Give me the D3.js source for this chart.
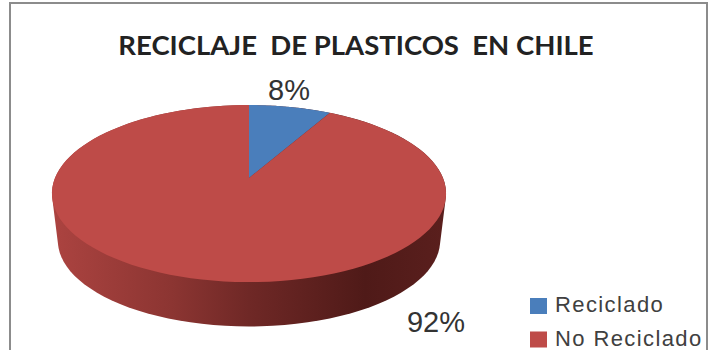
<!DOCTYPE html>
<html>
<head>
<meta charset="utf-8">
<script src="https://cdn.jsdelivr.net/npm/d3@7"></script>
<style>
html,body{margin:0;padding:0;background:#fff;overflow:hidden}
svg{display:block}
text{white-space:pre}
</style>
</head>
<body>
<svg id="chart" width="721" height="350"></svg>
<script>
const chartTitle = "RECICLAJE  DE PLASTICOS  EN CHILE";
const categories = ["Reciclado", "No Reciclado"];
const shares = [8, 92];
const topColors = ["#4a7ebb", "#be4b48"];

const svg = d3.select("#chart");
const defs = svg.append("defs");

// Outer frame of the chart area; its bottom edge runs past the window
svg.append("rect").attr("x", 10).attr("y", 3).attr("width", 697).attr("height", 370)
  .attr("fill", "#fff").attr("stroke", "#8c8c8c").attr("stroke-width", 2);

// Tilted disc: unit-circle coordinates go through a perspective divide
const apex = {x: 249, y: 178};
const perspective = -0.176;
const planeX = d3.scaleLinear().domain([-1, 1]).range([apex.x - 194, apex.x + 194]);
const planeY = d3.scaleLinear().domain([-1, 1]).range([apex.y - 85.8, apex.y + 85.8]);
const project = (u, v, shrink = 1, drop = 0) => {
  const w = 1 + perspective * v;
  return [planeX(shrink * u / w), planeY(shrink * v / w) + drop];
};

// Pie layout starting at twelve o'clock, clockwise
const pie = d3.pie().sort(null).value(d => d)(shares);
const rimPoints = (a0, a1, shrink, drop) =>
  d3.range(0, 121).map(i => {
    const a = a0 + (a1 - a0) * i / 120;
    return project(Math.sin(a), -Math.cos(a), shrink, drop);
  });

// Side wall: hull of the top rim and the lower rim
const wallGrad = defs.append("linearGradient").attr("id", "wall")
  .attr("gradientUnits", "userSpaceOnUse")
  .attr("x1", planeX(-1)).attr("x2", planeX(1)).attr("y1", 0).attr("y2", 0);
[[0, "#ab4340"], [0.3, "#8c3532"], [0.5, "#6f2826"], [0.8, "#4f1a18"], [1, "#5a1f1d"]]
  .forEach(([o, c]) => wallGrad.append("stop").attr("offset", o).attr("stop-color", c));

const hull = d3.polygonHull([
  ...rimPoints(0, 2 * Math.PI, 1, 0),
  ...rimPoints(0, 2 * Math.PI, 0.97, 47.5)
]);
svg.append("path").attr("d", d3.line()(hull) + "Z").attr("fill", "url(#wall)");

// Top face of the pie
const line = d3.line();
svg.append("g").selectAll("path").data(pie).join("path")
  .attr("d", d => line([project(0, 0), ...rimPoints(d.startAngle, d.endAngle, 1, 0)]) + "Z")
  .attr("fill", (d, i) => topColors[i]);

// Title
svg.append("text").attr("x", 356).attr("y", 55).attr("text-anchor", "middle")
  .attr("font-family", "Lato").attr("font-weight", 700).attr("font-size", 27.5)
  .attr("fill", "#222").text(chartTitle);

// Percentage labels
const labelPos = [[289, 100], [436, 332]];
svg.append("g").selectAll("text").data(shares).join("text")
  .attr("x", (d, i) => labelPos[i][0]).attr("y", (d, i) => labelPos[i][1])
  .attr("text-anchor", "middle")
  .attr("font-family", "Liberation Sans").attr("font-size", 29).attr("fill", "#333")
  .text(d => d + "%");

// Legend
const legendY = d3.scalePoint().domain(categories).range([312, 345.5]);
const legend = svg.append("g").selectAll("g").data(categories).join("g")
  .attr("transform", d => `translate(530,${legendY(d)})`);
legend.append("rect").attr("x", 0).attr("y", -14).attr("width", 17).attr("height", 16)
  .attr("fill", (d, i) => topColors[i]);
legend.append("text").attr("x", 25).attr("y", 0)
  .attr("font-family", "Liberation Sans").attr("font-size", 22).attr("fill", "#404040")
  .attr("letter-spacing", 1.4).text(d => d);
</script>
</body>
</html>
